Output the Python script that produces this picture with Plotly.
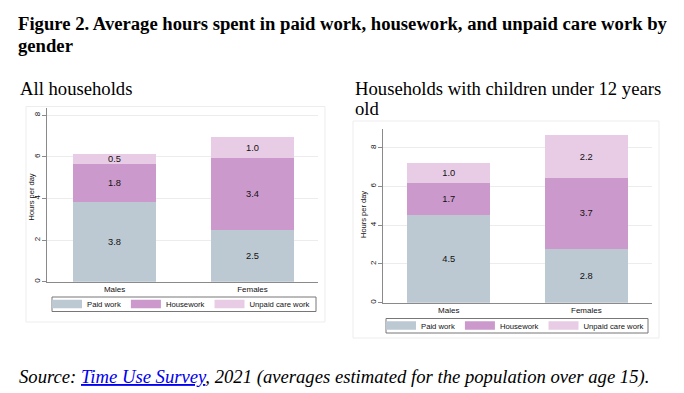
import plotly.graph_objects as go

W, H = 684, 393

categories = ["Males", "Females"]
series_names = ["Paid work", "Housework", "Unpaid care work"]
series_colors = ["#bcc9d3", "#cc99cc", "#e8cce6"]

# All households
all_paid = [3.83, 2.49]
all_house = [1.83, 3.44]
all_care = [0.47, 1.04]

# Households with children under 12 years old
kids_paid = [4.51, 2.78]
kids_house = [1.69, 3.66]
kids_care = [1.02, 2.21]

y_ticks = [0, 2, 4, 6, 8]
y_title = "Hours per day"

SANS = "Liberation Sans, Arial, sans-serif"
SERIF = "Liberation Serif, Times New Roman, serif"
TXT = 18.67


def px(x):
    return x / W


def py(y):
    return 1 - y / H


fig = go.Figure()

panels = [
    ("x", "y", "legend", [all_paid, all_house, all_care]),
    ("x2", "y2", "legend2", [kids_paid, kids_house, kids_care]),
]
for xa, ya, lg, data in panels:
    for name, color, vals in zip(series_names, series_colors, data):
        fig.add_trace(go.Bar(
            x=categories, y=vals, name=name, xaxis=xa, yaxis=ya,
            marker=dict(color=color, line=dict(width=0)),
            width=0.6, texttemplate="%{y:.1f}", textposition="inside",
            insidetextanchor="middle",
            textfont=dict(family=SANS, size=9.3, color="#111"),
            showlegend=False, hoverinfo="skip",
        ))
    for name, color in zip(series_names, series_colors):
        fig.add_trace(go.Scatter(
            x=[None], y=[None], mode="lines", name=name, xaxis=xa, yaxis=ya,
            line=dict(color=color, width=8.5), legend=lg, showlegend=True,
        ))

axis_common = dict(showline=True, linecolor="#8a8a8a", linewidth=1)
yaxis_common = dict(
    **axis_common, tickvals=y_ticks, ticks="outside", ticklen=4, tickcolor="#8a8a8a",
    tickangle=-90, tickfont=dict(family=SANS, size=8, color="#111"), ticklabelstandoff=-1,
    showgrid=True, gridcolor="#ececec", gridwidth=1, zeroline=False,
)
xaxis_common = dict(
    **axis_common, type="category", ticks="", showgrid=False,
    tickfont=dict(family=SANS, size=8, color="#111"),
)
legend_common = dict(
    orientation="h", xanchor="left", yanchor="middle", traceorder="normal",
    font=dict(family=SANS, size=7.7, color="#111"), itemwidth=30,
    borderwidth=0, bgcolor="rgba(0,0,0,0)", tracegroupgap=0,
)

fig.update_layout(
    width=W, height=H, autosize=False,
    margin=dict(l=0, r=0, t=0, b=0),
    paper_bgcolor="white", plot_bgcolor="white",
    barmode="stack",
    uniformtext=dict(minsize=9, mode="show"),
    xaxis=dict(**xaxis_common, domain=[px(47), px(318)], range=[-0.49, 1.475], anchor="y"),
    yaxis=dict(**yaxis_common, domain=[py(281.7), py(108)], range=[0, 8.35], anchor="x"),
    xaxis2=dict(**xaxis_common, domain=[px(382.7), px(651.7)], range=[-0.48, 1.475], anchor="y2"),
    yaxis2=dict(**yaxis_common, domain=[py(302.7), py(128.5)], range=[0, 9.0], anchor="x2"),
    legend=dict(**legend_common, x=px(47), y=py(304)),
    legend2=dict(**legend_common, x=px(381), y=py(325.5)),
    shapes=[
        dict(type="rect", xref="paper", yref="paper", x0=px(26), x1=px(325), y0=py(322), y1=py(106.5),
             line=dict(color="#ededed", width=1), layer="below"),
        dict(type="rect", xref="paper", yref="paper", x0=px(353), x1=px(659), y0=py(338), y1=py(121),
             line=dict(color="#ededed", width=1), layer="below"),
        dict(type="rect", xref="paper", yref="paper", x0=px(52), x1=px(316), y0=py(311.5), y1=py(297),
             line=dict(color="#777", width=1)),
        dict(type="rect", xref="paper", yref="paper", x0=px(386), x1=px(648), y0=py(333), y1=py(318.5),
             line=dict(color="#777", width=1)),
    ],
    annotations=[
        dict(text="<b>Figure 2. Average hours spent in paid work, housework, and unpaid care work by</b>",
             x=px(16), y=py(23.5), xref="paper", yref="paper", xanchor="left", yanchor="middle",
             showarrow=False, font=dict(family=SERIF, size=TXT, color="black")),
        dict(text="<b>gender</b>",
             x=px(16), y=py(45.5), xref="paper", yref="paper", xanchor="left", yanchor="middle",
             showarrow=False, font=dict(family=SERIF, size=TXT, color="black")),
        dict(text="All households",
             x=px(18), y=py(89), xref="paper", yref="paper", xanchor="left", yanchor="middle",
             showarrow=False, font=dict(family=SERIF, size=TXT, color="black")),
        dict(text="Households with children under 12 years",
             x=px(353), y=py(89), xref="paper", yref="paper", xanchor="left", yanchor="middle",
             showarrow=False, font=dict(family=SERIF, size=TXT, color="black")),
        dict(text="old",
             x=px(353), y=py(109), xref="paper", yref="paper", xanchor="left", yanchor="middle",
             showarrow=False, font=dict(family=SERIF, size=TXT, color="black")),
        dict(text=y_title, textangle=-90,
             x=px(30.5), y=py(197), xref="paper", yref="paper", xanchor="center", yanchor="middle",
             showarrow=False, font=dict(family=SANS, size=7.5, color="#111")),
        dict(text=y_title, textangle=-90,
             x=px(364), y=py(215), xref="paper", yref="paper", xanchor="center", yanchor="middle",
             showarrow=False, font=dict(family=SANS, size=7.5, color="#111")),
        dict(text="<i>Source: <span style='color:#0000ee;text-decoration:underline'>Time Use Survey</span>, 2021 (averages estimated for the population over age 15).</i>",
             x=px(17), y=py(377), xref="paper", yref="paper", xanchor="left", yanchor="middle",
             showarrow=False, font=dict(family=SERIF, size=TXT, color="black")),
    ],
)

# remove the default 8px body margin so the 684x393 figure fills the window exactly
fig.write_html("out.html", config={"displayModeBar": False},
               post_script="document.body.style.margin='0px';")
